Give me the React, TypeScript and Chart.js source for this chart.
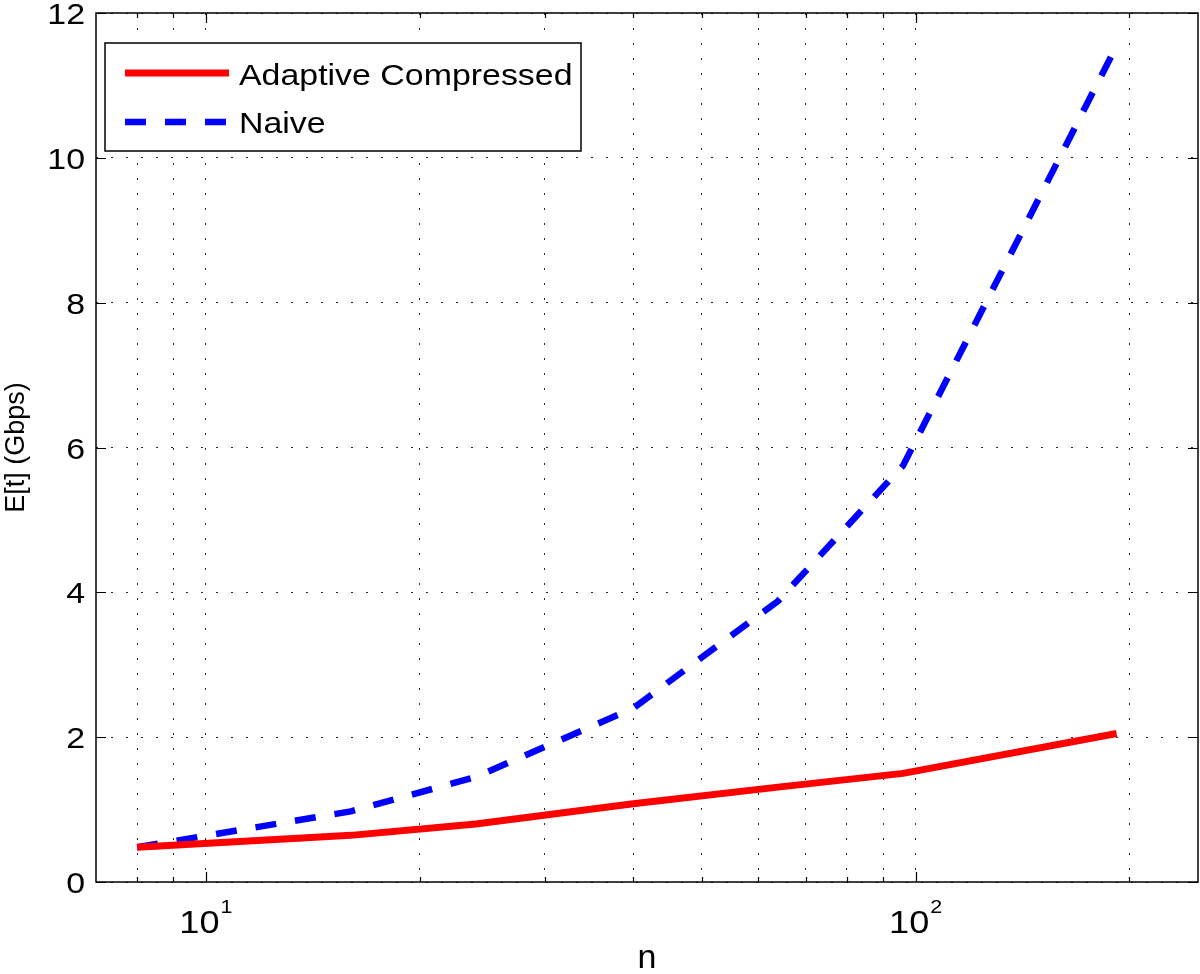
import React, { useEffect, useRef } from "react";
import { Chart, registerables } from "chart.js";

Chart.register(...registerables);

const FONT = '"Liberation Sans", Arial, Helvetica, sans-serif';
const SX = 1.13; // horizontal stretch of the reference's text

// ---- data ----
const nValues = [8, 16, 24, 40, 64, 96, 192];
const adaptiveCompressed = [0.48, 0.644, 0.8, 1.08, 1.31, 1.5, 2.05];
const naive = [0.48, 0.975, 1.45, 2.4, 3.88, 5.75, 11.55];
const seriesNames = ["Adaptive Compressed", "Naive"];
const seriesColors = ["#ff0000", "#0000ff"];

// ---- axes ----
const xGridValues = [8, 9, 10, 20, 30, 40, 50, 60, 70, 80, 90, 100, 200];
const xLabelValues = [10, 100];
const xLabelBase = "10";
const xLabelExponents = ["1", "2"];
const yTickValues = [0, 2, 4, 6, 8, 10, 12];
const xTitle = "n";
const yTitle = "E[t] (Gbps)";
const X_MIN = 7;
const X_MAX = 250;
const Y_MIN = 0;
const Y_MAX = 12;

function drawText(ctx: any, text: string, x: number, y: number, size: number, align: string) {
  ctx.save();
  ctx.translate(x, y);
  ctx.scale(SX, 1);
  ctx.font = `${size}px ${FONT}`;
  ctx.textAlign = align;
  ctx.textBaseline = "alphabetic";
  ctx.fillStyle = "#000";
  ctx.fillText(text, 0, 0);
  ctx.restore();
}

function measure(ctx: any, text: string, size: number) {
  ctx.save();
  ctx.font = `${size}px ${FONT}`;
  const w = ctx.measureText(text).width * SX;
  ctx.restore();
  return w;
}

const matlabPlugin = {
  id: "matlabAxes",
  afterDraw(chart: any) {
    const { ctx } = chart;
    const { left, right, top, bottom } = chart.chartArea;
    const xs = chart.scales.x;
    const ys = chart.scales.y;
    ctx.save();
    ctx.setLineDash([]);
    ctx.strokeStyle = "#000";
    ctx.lineWidth = 1.5;
    ctx.strokeRect(left, top, right - left, bottom - top);

    // inner tick marks
    ctx.lineWidth = 1.2;
    ctx.beginPath();
    xs.ticks.forEach((t: any) => {
      const px = Math.round(xs.getPixelForValue(t.value)) + 0.5;
      const len = xLabelValues.includes(t.value) ? 10 : 5;
      ctx.moveTo(px, bottom);
      ctx.lineTo(px, bottom - len);
      ctx.moveTo(px, top);
      ctx.lineTo(px, top + len);
    });
    ys.ticks.forEach((t: any) => {
      const py = Math.round(ys.getPixelForValue(t.value)) + 0.5;
      ctx.moveTo(left, py);
      ctx.lineTo(left + 10, py);
      ctx.moveTo(right, py);
      ctx.lineTo(right - 10, py);
    });
    ctx.stroke();

    // y tick labels
    ys.ticks.forEach((t: any) => {
      const py = ys.getPixelForValue(t.value);
      drawText(ctx, String(t.value), left - 11, py + 11, 30, "right");
    });

    // x tick labels with superscript exponent
    xLabelValues.forEach((v, i) => {
      const px = xs.getPixelForValue(v);
      const w1 = measure(ctx, xLabelBase, 32);
      const w2 = measure(ctx, xLabelExponents[i], 19);
      const gap = 1;
      const x0 = px - (w1 + gap + w2) / 2;
      drawText(ctx, xLabelBase, x0, bottom + 51, 32, "left");
      drawText(ctx, xLabelExponents[i], x0 + w1 + gap, bottom + 31, 19, "left");
    });

    // legend
    const bx = left + 9;
    const by = top + 30;
    const bw = 476;
    const bh = 108;
    ctx.fillStyle = "#fff";
    ctx.fillRect(bx, by, bw, bh);
    ctx.lineWidth = 1.5;
    ctx.strokeStyle = "#000";
    ctx.strokeRect(bx, by, bw, bh);
    chart.data.datasets.forEach((ds: any, i: number) => {
      const ly = by + 30 + i * 49;
      ctx.save();
      ctx.beginPath();
      ctx.strokeStyle = ds.borderColor;
      ctx.lineWidth = ds.borderWidth;
      ctx.lineCap = "butt";
      ctx.setLineDash(ds.borderDash || []);
      ctx.moveTo(bx + 20, ly);
      ctx.lineTo(bx + 124, ly);
      ctx.stroke();
      ctx.restore();
      drawText(ctx, ds.label, bx + 134, by + 42 + i * 48, 30, "left");
    });
    ctx.restore();
  },
};

export default function App() {
  const canvasRef = useRef<HTMLCanvasElement | null>(null);

  useEffect(() => {
    document.body.style.margin = "0";
    const canvas = canvasRef.current;
    if (!canvas) return;
    const chart = new Chart(canvas, {
      type: "line",
      data: {
        datasets: [
          {
            label: seriesNames[0],
            data: nValues.map((n, i) => ({ x: n, y: adaptiveCompressed[i] })),
            borderColor: seriesColors[0],
            backgroundColor: seriesColors[0],
            borderWidth: 7,
            pointRadius: 0,
            tension: 0,
            fill: false,
            borderJoinStyle: "round",
          },
          {
            label: seriesNames[1],
            data: nValues.map((n, i) => ({ x: n, y: naive[i] })),
            borderColor: seriesColors[1],
            backgroundColor: seriesColors[1],
            borderWidth: 6.5,
            borderDash: [21, 19],
            pointRadius: 0,
            tension: 0,
            fill: false,
          },
        ],
      },
      options: {
        responsive: false,
        animation: false,
        layout: { padding: { top: 13, right: 2, bottom: 0, left: 0 } },
        plugins: {
          legend: { display: false },
          tooltip: { enabled: false },
        },
        scales: {
          x: {
            type: "logarithmic",
            min: X_MIN,
            max: X_MAX,
            afterBuildTicks: (s: any) => {
              s.ticks = xGridValues.map((v) => ({ value: v }));
            },
            afterFit: (s: any) => {
              s.height = 92;
              s.paddingLeft = 0;
              s.paddingRight = 0;
            },
            ticks: { display: false },
            grid: {
              color: "rgba(0,0,0,0.85)",
              lineWidth: 1,
              drawTicks: false,
            },
            border: { display: false, dash: [2, 13] },
            title: {
              display: true,
              text: xTitle,
              color: "#000",
              font: { family: FONT, size: 34, lineHeight: 0.9 },
              padding: { top: 0, bottom: 0 },
            },
          },
          y: {
            type: "linear",
            min: Y_MIN,
            max: Y_MAX,
            afterBuildTicks: (s: any) => {
              s.ticks = yTickValues.map((v) => ({ value: v }));
            },
            afterFit: (s: any) => {
              s.width = 96;
              s.paddingTop = 0;
              s.paddingBottom = 0;
            },
            ticks: { display: false },
            grid: {
              color: "rgba(0,0,0,0.85)",
              lineWidth: 1,
              drawTicks: false,
            },
            border: { display: false, dash: [2, 13] },
            title: {
              display: true,
              text: yTitle,
              color: "#000",
              font: { family: FONT, size: 27 },
              padding: { top: 0, bottom: 0 },
            },
          },
        },
      },
      plugins: [matlabPlugin],
    } as any);
    return () => chart.destroy();
  }, []);

  return (
    <div
      style={{
        position: "absolute",
        left: 0,
        top: 0,
        width: 1200,
        height: 974,
        background: "#fff",
      }}
    >
      <canvas
        ref={canvasRef}
        width={1200}
        height={974}
        style={{ display: "block", width: 1200, height: 974 }}
      />
    </div>
  );
}
